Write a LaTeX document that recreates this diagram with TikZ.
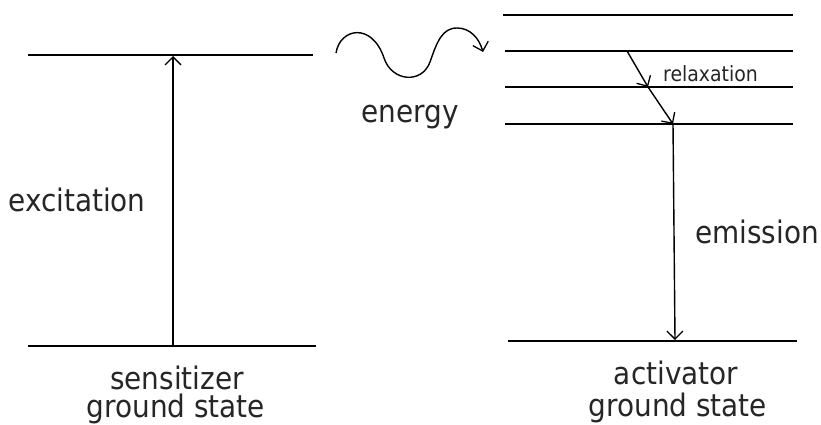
\documentclass[tikz,border=0pt]{standalone}
\usepackage{fontspec}
\setmainfont{DejaVu Sans Condensed}
\usetikzlibrary{arrows.meta}
\begin{document}
\begin{tikzpicture}[x=1pt,y=-1pt,
  level/.style={line width=1.4pt},
  tip/.style={-{Straight Barb[length=8pt,width=16pt,line width=1.3pt]}},
  trans/.style={line width=1.4pt,tip},
  big/.style={font=\fontsize{31}{34}\selectfont,inner sep=0pt,text=black!85},
  small/.style={font=\fontsize{21}{24}\selectfont,inner sep=0pt,text=black!85}]
\fill[white] (0,0) rectangle (821,425);
\useasboundingbox (0,0) rectangle (821,425);
% sensitizer levels
\coordinate (sTl) at (28,55); \coordinate (sTr) at (313,55);
\coordinate (sBl) at (28,346); \coordinate (sBr) at (316,346);
\draw[level] (sTl) -- (sTr);
\draw[level] (sBl) -- (sBr);
\coordinate (sA0) at (173,346); \coordinate (sA1) at (173,56);
\draw[trans] (sA0) -- (sA1);
% activator levels
\coordinate (a1l) at (503,15); \coordinate (a1r) at (793,15);
\coordinate (a2l) at (505,51); \coordinate (a2r) at (793,51);
\coordinate (a3l) at (505,87); \coordinate (a3r) at (793,87);
\coordinate (a4l) at (505,124); \coordinate (a4r) at (793,124);
\coordinate (a0l) at (508,341); \coordinate (a0r) at (797,341);
\foreach \p in {a1,a2,a3,a4,a0} \draw[level] (\p l) -- (\p r);
\coordinate (r0) at (627,51); \coordinate (r1) at (648,87); \coordinate (r2) at (673,124);
\coordinate (e1) at (675,340);
\draw[trans] (r0) -- (r1);
\draw[trans] (r1) -- (r2);
\draw[trans] (r2) -- (e1);
% energy wave
\coordinate (w0) at (336,53); \coordinate (w1) at (384,58);
\coordinate (w2) at (430,62); \coordinate (w3) at (457,28); \coordinate (w4) at (483,52);
\draw[line width=1.4pt,tip]
  (w0) .. controls (340,28) and (372,22) .. (w1)
       .. controls (392,82) and (422,84) .. (w2)
       .. controls (437,42) and (442,28) .. (w3)
       .. controls (470,28) and (479,38) .. (w4);
% labels
\node[big] (exc) at (77,200) {excitation};
\node[big] (en) at (410,117) {energy};
\node[big] (em) at (757,232) {emission};
\node[small,anchor=west] (rel) at (663,74) {relaxation};
\node[big] (sen) at (177,378) {sensitizer};
\node[big] (sgs) at (176,409) {ground state};
\node[big] (act) at (676,373) {activator};
\node[big] (ags) at (678,408) {ground state};
\end{tikzpicture}
\end{document}
